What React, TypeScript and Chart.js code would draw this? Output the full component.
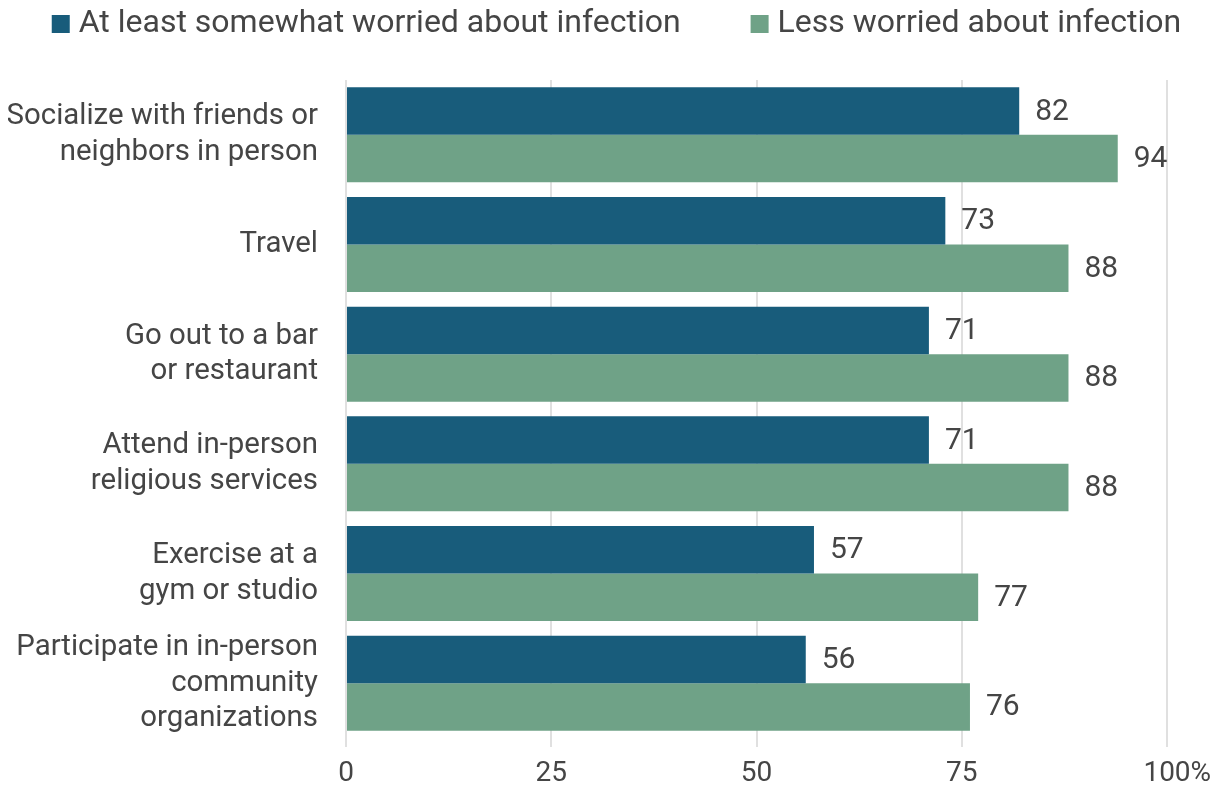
import React, { useEffect, useRef } from "react";
import { Chart, registerables } from "chart.js";

Chart.register(...registerables);

const categories: string[][] = [
  ["Socialize with friends or", "neighbors in person"],
  ["Travel"],
  ["Go out to a bar", "or restaurant"],
  ["Attend in-person", "religious services"],
  ["Exercise at a", "gym or studio"],
  ["Participate in in-person", "community", "organizations"],
];
const worried: number[] = [82, 73, 71, 71, 57, 56];
const lessWorried: number[] = [94, 88, 88, 88, 77, 76];
const seriesNames: string[] = ["At least somewhat worried about infection", "Less worried about infection"];
const seriesColors: string[] = ["#185c7b", "#6fa287"];
const xTicks: number[] = [0, 25, 50, 75, 100];

const FONT = "Roboto, 'Noto Sans', sans-serif";
const TEXT = "#454545";

const valueLabels = {
  id: "valueLabels",
  afterDatasetsDraw(chart: any) {
    const ctx = chart.ctx;
    ctx.save();
    ctx.font = `30px ${FONT}`;
    ctx.fillStyle = TEXT;
    ctx.textAlign = "left";
    ctx.textBaseline = "middle";
    chart.data.datasets.forEach((ds: any, di: number) => {
      const meta = chart.getDatasetMeta(di);
      meta.data.forEach((bar: any, i: number) => {
        ctx.fillText(String(ds.data[i]), bar.x + 16, bar.y + 1);
      });
    });
    ctx.restore();
  },
};

const topLegend = {
  id: "topLegend",
  afterDraw(chart: any) {
    const ctx = chart.ctx;
    ctx.save();
    ctx.font = `32px ${FONT}`;
    ctx.textBaseline = "middle";
    ctx.textAlign = "left";
    const box = 18;
    const gapText = 9;
    const gapItems = 70;
    const items = chart.data.datasets.map((ds: any) => ({
      label: ds.label as string,
      color: ds.backgroundColor as string,
      w: box + gapText + ctx.measureText(ds.label).width,
    }));
    const total = items.reduce((s: number, it: any) => s + it.w, 0) + gapItems * (items.length - 1);
    let x = chart.width / 2 + 4 - total / 2;
    const cy = 16;
    items.forEach((it: any) => {
      ctx.fillStyle = it.color;
      ctx.fillRect(x, cy - box / 2, box, box);
      ctx.fillStyle = TEXT;
      ctx.fillText(it.label, x + box + gapText, cy);
      x += it.w + gapItems;
    });
    ctx.restore();
  },
};

const percentSign = {
  id: "percentSign",
  afterDraw(chart: any) {
    const scale = chart.scales.x;
    const ctx = chart.ctx;
    ctx.save();
    ctx.font = `28px ${FONT}`;
    const last = xTicks[xTicks.length - 1];
    const w = ctx.measureText(String(last)).width;
    const item = (scale as any)._labelItems?.find((li: any) => li.label === String(last));
    ctx.fillStyle = TEXT;
    ctx.textAlign = "left";
    if (item) {
      ctx.textBaseline = item.options.textBaseline;
      ctx.fillText("%", scale.getPixelForValue(last) + w / 2, item.options.translation[1] + (item.textOffset || 0));
    }
    ctx.restore();
  },
};

export default function App() {
  const ref = useRef<HTMLCanvasElement>(null);
  useEffect(() => {
    if (!ref.current) return;
    const chart = new Chart(ref.current, {
      type: "bar",
      data: {
        labels: categories,
        datasets: [
          { label: seriesNames[0], data: worried, backgroundColor: seriesColors[0], barPercentage: 1, categoryPercentage: 0.867 },
          { label: seriesNames[1], data: lessWorried, backgroundColor: seriesColors[1], barPercentage: 1, categoryPercentage: 0.867 },
        ],
      },
      options: {
        indexAxis: "y",
        animation: false,
        responsive: true,
        maintainAspectRatio: false,
        layout: { padding: { left: 0, right: 50, top: 72, bottom: 0 } },
        plugins: {
          legend: { display: false },
          tooltip: { enabled: false },
        },
        scales: {
          x: {
            min: 0,
            max: 100,
            afterBuildTicks: (axis: any) => {
              axis.ticks = xTicks.map((v) => ({ value: v }));
            },
            afterFit: (s: any) => {
              s.height = 51;
              s.paddingLeft = 0;
              s.paddingRight = 0;
            },
            ticks: {
              font: { family: FONT, size: 28 },
              color: TEXT,
              padding: 10,
              maxRotation: 0,
              callback: (v: any) => String(v),
            },
            grid: { color: "#e0e0e0", lineWidth: 2, drawTicks: true, tickLength: 9 },
            border: { display: false },
          },
          y: {
            afterFit: (s: any) => {
              s.width = 338;
              s.paddingTop = 0;
              s.paddingBottom = 0;
            },
            ticks: {
              autoSkip: false,
              font: { family: FONT, size: 29.4, lineHeight: 1.21 },
              color: TEXT,
              padding: 28,
            },
            grid: { display: false, drawTicks: false },
            border: { display: false },
          },
        },
      },
      plugins: [valueLabels, topLegend, percentSign],
    });
    return () => chart.destroy();
  }, []);
  return (
    <div style={{ width: 1209, height: 781, marginBottom: -8 }}>
      <canvas ref={ref} />
    </div>
  );
}
